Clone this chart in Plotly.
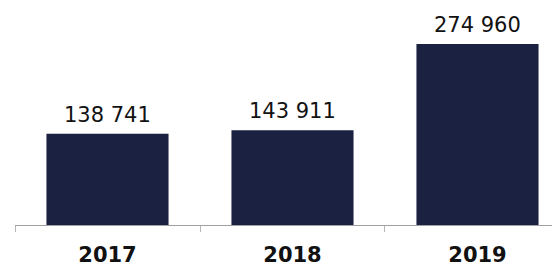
import plotly.graph_objects as go

years = ["2017", "2018", "2019"]
values = [138741, 143911, 274960]
labels = ["138 741", "143 911", "274 960"]

fig = go.Figure(go.Bar(
    x=years, y=values,
    marker=dict(color="#1b2241", line=dict(width=0)),
    hoverinfo="skip",
))
for i, (v, t) in enumerate(zip(values, labels)):
    fig.add_annotation(
        x=i, y=v, xref="x", yref="y", text=t, showarrow=False,
        yanchor="bottom", yshift=5,
        font=dict(family="DejaVu Sans", size=21, color="#111111"),
    )
fig.update_layout(
    width=552, height=258,
    margin=dict(l=7, r=0, t=0, b=41, autoexpand=False),
    paper_bgcolor="white", plot_bgcolor="white",
    bargap=0.34,
    showlegend=False,
    xaxis=dict(
        type="category", range=[-0.5, 2.446], automargin=False,
        showline=True, linecolor="#a0a0a0", linewidth=1,
        ticks="outside", tickson="boundaries", ticklen=6, tickcolor="#b5b5b5",
        ticklabelstandoff=11,
        tickfont=dict(family="DejaVu Sans", size=21, color="#111111", weight="bold"),
        showgrid=False, zeroline=False,
    ),
    yaxis=dict(range=[0, 329600], visible=False, showgrid=False, zeroline=False,
               automargin=False),
)
fig.write_html("out.html")
